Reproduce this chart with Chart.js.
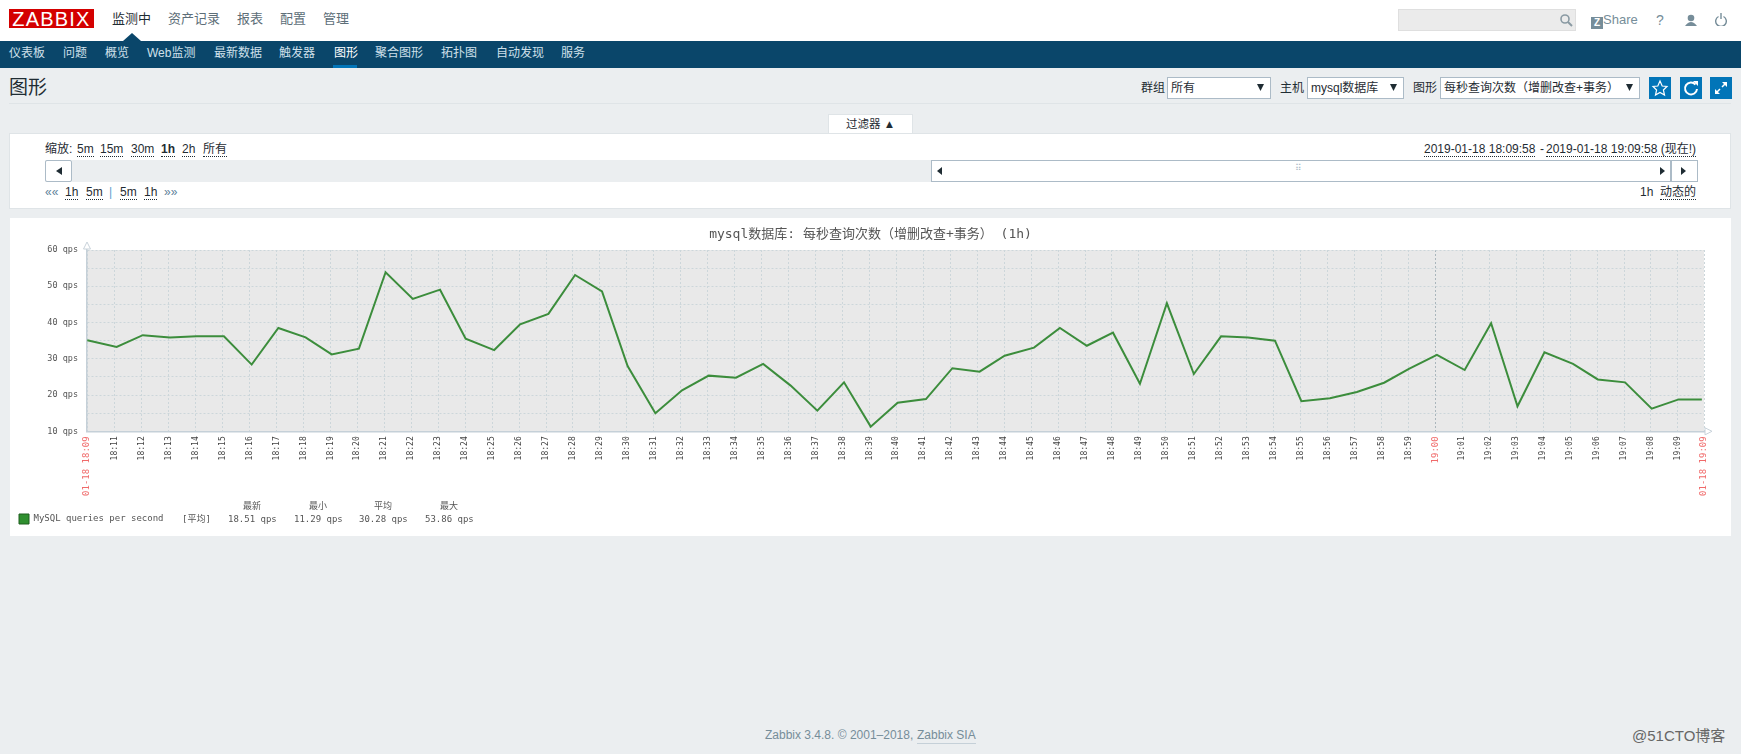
<!DOCTYPE html>
<html lang="zh"><head><meta charset="utf-8"><title>Zabbix</title>
<script src="https://cdn.jsdelivr.net/npm/chart.js@4"></script>
<style>
html,body{margin:0;padding:0;width:1741px;height:754px;overflow:hidden;background:#ebeef0;font-family:'Liberation Sans','Noto Sans CJK SC',sans-serif;font-size:12px;color:#1f2c33}
.a{position:absolute;white-space:nowrap}
.box{position:absolute;box-sizing:border-box}
svg{position:absolute}
</style></head><body>
<div id="page"></div>
<div class="box" style="left:10px;top:218px;width:1721px;height:318px;background:#fff"><canvas id="c" width="1721" height="318" style="display:block;filter:blur(0.3px)"></canvas></div>
<script>
/* ---------- chart data ---------- */
const chartTitle = 'mysql数据库: 每秒查询次数（增删改查+事务） (1h)';
const seriesName = 'MySQL queries per second';
const startClock = [18, 9, 58];
const rangeMinutes = 60;
const sampleMinutes = [0.01,1.10,2.07,3.08,4.07,5.08,6.11,7.10,8.11,9.08,10.09,11.08,12.09,13.10,14.05,15.11,16.07,17.12,18.11,19.11,20.06,21.09,22.08,23.07,24.08,25.09,26.11,27.10,28.09,29.08,30.08,31.13,32.11,33.12,34.05,35.14,36.10,37.10,38.07,39.07,40.07,41.07,42.08,43.08,44.08,45.06,46.12,47.12,48.13,49.05,50.09,51.12,52.10,53.08,54.08,55.14,56.06,57.07,58.06,59.06,59.92];
const qpsValues = [35.1,33.25,36.5,35.9,36.2,36.2,28.4,38.5,35.9,31.2,32.8,53.86,46.5,49.06,35.55,32.4,39.5,42.4,53.1,48.6,28.0,15.0,21.3,25.35,24.8,28.6,22.6,15.7,23.5,11.29,17.9,18.9,27.4,26.45,30.86,33.07,38.5,33.6,37.2,23.1,45.3,25.8,36.2,35.9,35.0,18.3,19.1,20.85,23.4,27.2,31.05,26.9,39.8,16.9,31.8,28.6,24.3,23.5,16.25,18.8,18.8];
const firstTickLabel = '01-18 18:09';
const lastTickLabel = '01-18 19:09';
const minuteTickLabels = ['18:11','18:12','18:13','18:14','18:15','18:16','18:17','18:18','18:19','18:20','18:21','18:22','18:23','18:24','18:25','18:26','18:27','18:28','18:29','18:30','18:31','18:32','18:33','18:34','18:35','18:36','18:37','18:38','18:39','18:40','18:41','18:42','18:43','18:44','18:45','18:46','18:47','18:48','18:49','18:50','18:51','18:52','18:53','18:54','18:55','18:56','18:57','18:58','18:59','19:00','19:01','19:02','19:03','19:04','19:05','19:06','19:07','19:08','19:09'];
const redTicks = ['19:00', firstTickLabel, lastTickLabel];
const yMin = 10, yMax = 60, yStep = 5;
const yTickLabels = {10:'10 qps',20:'20 qps',30:'30 qps',40:'40 qps',50:'50 qps',60:'60 qps'};
const statHeaders = ['最新','最小','平均','最大'];
const statValues = ['18.51 qps','11.29 qps','30.28 qps','53.86 qps'];
const statAggregate = '[平均]';

/* ---------- page chrome ---------- */
const page = document.getElementById('page');
function R(x,y,w,h,css){const d=document.createElement('div');d.className='box';d.style.cssText=`left:${x}px;top:${y}px;width:${w}px;height:${h}px;`+(css||'');page.appendChild(d);return d;}
function T(x,cy,txt,css){const d=document.createElement('span');d.className='a';d.textContent=txt;d.style.cssText=`left:${x}px;top:${cy-10}px;line-height:20px;`+(css||'');page.appendChild(d);return d;}
function L(x,cy,txt,css){const d=T(x,cy,txt,css);d.style.top=(cy-7)+'px';d.style.lineHeight='14px';d.style.borderBottom='1px dotted #1f2c33';return d;}
function S(html,x,y,w,h){const d=document.createElement('div');d.innerHTML=`<svg xmlns="http://www.w3.org/2000/svg" width="${w}" height="${h}" viewBox="0 0 ${w} ${h}" style="left:${x}px;top:${y}px">${html}</svg>`;page.appendChild(d);}

R(0,0,1741,41,'background:#fff');
R(0,41,1741,27,'background:#0a466a');
R(9,9,85,19,'background:#d40000;overflow:hidden');
T(9,19,'ZABBIX','width:85px;text-align:center;color:#fff;font-size:20px;letter-spacing:1.2px');
[[112,'监测中','#1f2c33'],[168,'资产记录'],[237,'报表'],[280,'配置'],[323,'管理']].forEach(m=>T(m[0],19,m[1],`font-size:13px;color:${m[2]||'#5d6e78'}`));
S('<polygon points="132,33 123,41 141,41" fill="#0a466a"/>',0,0,200,41);
[[9,'仪表板'],[63,'问题'],[105,'概览'],[147,'Web监测'],[214,'最新数据'],[279,'触发器'],[334,'图形'],[375,'聚合图形'],[441,'拓扑图'],[496,'自动发现'],[561,'服务']].forEach(m=>T(m[0],53,m[1],`color:${m[1]==='图形'?'#fff':'#cfe0ea'}`));
R(333,65,24,3,'background:#0275b8');
R(1398,9,178,22,'background:#ebebeb;border:1px solid #dfdfdf');
S('<circle cx="6" cy="6" r="4" fill="none" stroke="#8a9aa3" stroke-width="1.6"/><line x1="9" y1="9" x2="13" y2="13" stroke="#8a9aa3" stroke-width="2"/>',1559,13,14,14);
R(1591,17,12,12,'background:#768d99');
T(1591,23,'Z','width:12px;text-align:center;color:#fff;font-size:10px;font-weight:700');
T(1603,20,'Share','font-size:13px;color:#768d99');
T(1656,20,'?','font-size:14px;color:#768d99');
S('<circle cx="6" cy="4" r="3.3" fill="#768d99"/><path d="M0,12 Q6,4 12,12 Z" fill="#768d99"/>',1685,14,12,12);
S('<path d="M3.5,3.5 A5.3,5.3 0 1 0 8.5,3.5" fill="none" stroke="#768d99" stroke-width="1.4"/><line x1="6" y1="0" x2="6" y2="6" stroke="#768d99" stroke-width="1.4"/>',1715,13,12,13);

T(9,88,'图形','font-size:19px;color:#1f2c33');
R(9,103,1722,1,'background:#dfe4e7');
T(1141,88,'群组');
T(1280,88,'主机');
T(1413,88,'图形');
function sel(x,w,txt){R(x,77,w,22,'background:#fff;border:1px solid #acbbc7');T(x+4,88,txt);S('<polygon points="0,0 7,0 3.5,7" fill="#1f2c33"/>',x+w-14,84,7,7);}
sel(1167,104,'所有');sel(1307,97,'mysql数据库');sel(1440,200,'每秒查询次数（增删改查+事务）');
[1649,1680,1710].forEach(x=>R(x,77,22,22,'background:#0275b8'));
S('<polygon points="11,4 13.2,9 18,9.5 14.4,13 15.5,18 11,15.4 6.5,18 7.6,13 4,9.5 8.8,9" fill="none" stroke="#fff" stroke-width="1.2"/>',1649,77,22,22);
S('<path d="M15.5,7.5 A6,6 0 1 0 17,12" fill="none" stroke="#fff" stroke-width="2"/><polygon points="13,4 18,4 18,9" fill="#fff"/>',1680,77,22,22);
S('<path d="M12,5 L17,5 L17,10 Z M5,12 L5,17 L10,17 Z" fill="#fff"/><path d="M15,7 L12,10 M7,15 L10,12" stroke="#fff" stroke-width="1.5"/>',1710,77,22,22);

R(828,114,85,20,'background:#fff;border:1px solid #dfe4e7;border-bottom:none');
T(828,124,'过滤器 ▲','width:85px;text-align:center;font-size:11.5px');
R(9,133,1722,76,'background:#fff;border:1px solid #dfe4e7');
T(45,149,'缩放:');
[[77,'5m'],[100,'15m'],[131,'30m'],[161,'1h','font-weight:700'],[182,'2h'],[203,'所有']].forEach(m=>L(m[0],149,m[1],m[2]||''));
L(1424,149,'2019-01-18 18:09:58');
T(1540,149,'-');
L(1546,149,'2019-01-18 19:09:58 (现在!)');
R(45,160,1652,22,'background:#ebeef0');
R(45,160,27,22,'background:#fff;border:1px solid #acbbc7;border-radius:2px');
S('<polygon points="0,4 6,0 6,8" fill="#1f2c33"/>',56,167,6,8);
R(931,160,740,22,'background:#fff;border:1px solid #acbbc7');
S('<polygon points="0,4 5,0 5,8" fill="#1f2c33"/>',937,167,5,8);
T(1295,168,'⠿','font-size:9px;color:#acbbc7');
S('<polygon points="5,4 0,0 0,8" fill="#1f2c33"/>',1660,167,5,8);
R(1671,160,27,22,'background:#fff;border:1px solid #acbbc7');
S('<polygon points="5,4 0,0 0,8" fill="#1f2c33"/>',1681,167,5,8);
T(45,192,'««','color:#5d7f99');
L(65,192,'1h');L(86,192,'5m');
T(109,192,'|','color:#5d9fcf');
L(120,192,'5m');L(144,192,'1h');
T(164,192,'»»','color:#5d7f99');
T(1640,192,'1h');
L(1660,192,'动态的');

T(765,735,'Zabbix 3.4.8. © 2001–2018, ','color:#768d99');
T(917,735,'Zabbix SIA','color:#768d99;border-bottom:0').style.textDecoration='none';
R(917,743,59,1,'background:#c5d0d8');
T(1632,736,'@51CTO博客','font-size:15px;color:#666');

/* ---------- chart ---------- */
const tickDefs = [{v:0,label:firstTickLabel}]
  .concat(minuteTickLabels.map(s=>{const p=s.split(':');return {v:(+p[0]*60 + +p[1]) - (startClock[0]*60+startClock[1]+startClock[2]/60),label:s};}))
  .concat([{v:rangeMinutes,label:lastTickLabel}]);
const isRed = i => !!tickDefs[i] && redTicks.includes(tickDefs[i].label);
const MONO = "'DejaVu Sans Mono','Noto Sans CJK SC',monospace";
const points = sampleMinutes.map((m,i)=>({x:m,y:qpsValues[i]}));

const plotBg = {id:'plotBg',
  afterLayout(ch){ if(ch.titleBlock) ch.titleBlock.right = ch.width; },
  beforeDraw(ch){const a=ch.chartArea,c=ch.ctx;c.save();c.fillStyle='#e9e9e9';c.fillRect(a.left,a.top,a.right-a.left,a.bottom-a.top);c.restore();}};
const extras = {id:'extras',afterDraw(ch){
  const a=ch.chartArea,c=ch.ctx;c.save();
  c.strokeStyle='#c8d2da';c.fillStyle='#fff';c.lineWidth=1;
  c.beginPath();c.moveTo(a.left-3.5,a.top-1);c.lineTo(a.left,a.top-8);c.lineTo(a.left+3.5,a.top-1);c.closePath();c.fill();c.stroke();
  c.beginPath();c.moveTo(a.right+1,a.bottom-3.5);c.lineTo(a.right+8,a.bottom);c.lineTo(a.right+1,a.bottom+3.5);c.closePath();c.fill();c.stroke();
  c.fillStyle='#555';c.font='9px '+MONO;c.textBaseline='middle';
  c.textAlign='left';c.fillText(statAggregate,172,302);
  [218,284,349,415].forEach((x,i)=>c.fillText(statValues[i],x,302));
  c.textAlign='center';
  [242,308,373,439].forEach((x,i)=>c.fillText(statHeaders[i],x,289));
  c.restore();
}};

new Chart(document.getElementById('c'),{
  type:'line',
  data:{datasets:[{label:seriesName,data:points,borderColor:'#3c8d3c',backgroundColor:'#2f8f2f',borderWidth:2,pointRadius:0,tension:0,borderJoinStyle:'miter'}]},
  options:{
    responsive:false,animation:false,
    layout:{padding:{left:0,right:27,top:0,bottom:2}},
    plugins:{
      tooltip:{enabled:false},
      title:{display:true,text:chartTitle,color:'#555',font:{family:MONO,size:13,weight:'normal'},padding:{top:9,bottom:7.4}},
      legend:{display:true,position:'bottom',align:'start',
        labels:{boxWidth:10,boxHeight:10,padding:9,color:'#555',font:{family:MONO,size:9},
          generateLabels:ch=>[{text:seriesName,fillStyle:'#2f8f2f',strokeStyle:'#1f5f1f',lineWidth:1,datasetIndex:0,hidden:false,fontColor:'#555'}]}}
    },
    scales:{
      x:{type:'linear',min:0,max:rangeMinutes,
        afterBuildTicks(s){s.ticks=tickDefs.map(t=>({value:t.v}));},
        afterFit(s){s.height=73.7;},
        border:{color:'#c5d0d8',width:1.5,dash:[2,2]},
        grid:{drawTicks:false,color:c=>(c.tick&&Math.abs(c.tick.value-50.033)<.01)?'#aab6bc':'#ccd6da',lineWidth:1},
        ticks:{autoSkip:false,minRotation:90,maxRotation:90,padding:5,
          callback:(v,i)=>tickDefs[i]?tickDefs[i].label:'',
          color:c=>isRed(c.index)?'#f06a6a':'#444',
          font:c=>({family:MONO,size:isRed(c.index)?9:8})}},
      y:{min:yMin,max:yMax,
        afterFit(s){s.width=77;},
        border:{color:'#c5d0d8',width:1.5,dash:[2,2]},
        grid:{drawTicks:false,color:'#ccd6da',lineWidth:1},
        ticks:{stepSize:yStep,padding:9,color:'#555',font:{family:MONO,size:8.5},callback:v=>yTickLabels[v]||''}}
    }
  },
  plugins:[plotBg,extras]
});
</script></body></html>
